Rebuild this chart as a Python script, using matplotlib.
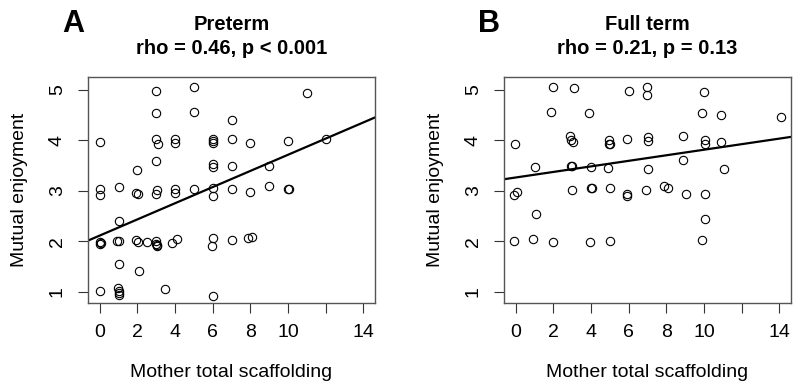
import numpy as np
import matplotlib
matplotlib.use("Agg")
import matplotlib.pyplot as plt

# ---------------------------
# Data
# ---------------------------

pre_x = [3, 5, 3, 5, 7, 0, 3, 3.1, 4, 4, 6, 6, 6, 7, 8, 2, 3, 6, 6, 7,
         0, 0, 1, 1.95, 2.03, 3, 3.05, 4, 4, 5, 6, 6, 7, 8, 1,
         0, 0.03, 0.05, 0.92, 1.05, 1.95, 2.02, 2.5, 3, 3.02, 3.03, 3,
         3.85, 4.08, 6, 5.95, 7, 7.9, 8.1, 1, 2.1, 0, 0.95, 1.0, 1.03, 1.0,
         3.47, 6, 11, 10, 12, 9, 9, 10, 10.05]
pre_y = [4.98, 5.05, 4.53, 4.56, 4.40, 3.96, 4.03, 3.93, 4.03, 3.94, 4.03, 3.99, 3.94, 4.02, 3.95, 3.41, 3.58, 3.53, 3.46, 3.48,
         3.03, 2.92, 3.08, 2.96, 2.93, 2.93, 3.01, 3.04, 2.96, 3.04, 3.06, 2.90, 3.04, 2.98, 2.39,
         1.98, 1.95, 1.97, 2.0, 2.0, 2.03, 1.98, 1.99, 2.0, 1.93, 1.90, 1.95,
         1.97, 2.04, 2.06, 1.91, 2.03, 2.07, 2.08, 1.54, 1.40, 1.01, 1.07, 1.02, 0.97, 0.93,
         1.05, 0.92, 4.93, 3.99, 4.03, 3.49, 3.10, 3.04, 3.03]

full_x = [2, 3.1, 6, 1.9, 3.9, -0.05, 2.88, 2.95, 3.02, 4.98, 4.98, 5.03, 5.9,
          1.05, 2.96, 3.0, 4.0, 4.9, -0.1, 0.07, 3, 4.0, 4.05, 5, 5.9, 5.92,
          1.08, -0.1, 0.9, 2.0, 3.95, 5.0, 6.95, 6.95, 9.98, 9.9, 10.9, 14.07,
          7, 7.03, 8.9, 10.06, 10.06, 10.9, 8.9, 7.04, 11.06, 6.9, 7.88, 8.07,
          9.02, 10.06, 10.06, 9.92]
full_y = [5.05, 5.04, 4.98, 4.56, 4.54, 3.93, 4.08, 4.0, 3.97, 4.0, 3.93, 3.92, 4.02,
          3.47, 3.49, 3.49, 3.46, 3.45, 2.92, 2.97, 3.02, 3.05, 3.05, 3.06, 2.93, 2.90,
          2.53, 2.0, 2.04, 1.98, 1.98, 2.0, 5.06, 4.9, 4.96, 4.54, 4.49, 4.45,
          4.06, 3.98, 4.08, 4.01, 3.92, 3.97, 3.61, 3.43, 3.43, 3.01, 3.09, 3.06,
          2.93, 2.94, 2.43, 2.02]

# fitted lines (intercept, slope)
pre_fit = [2.11, 0.16]
full_fit = [3.26, 0.055]

panels = [
    ("A", "Preterm", "rho = 0.46, p < 0.001", pre_x, pre_y, pre_fit),
    ("B", "Full term", "rho = 0.21, p = 0.13", full_x, full_y, full_fit),
]

xticks = [0, 2, 4, 6, 8, 10, 12, 14]
xticklabels = ["0", "2", "4", "6", "8", "10", "", "14"]
yticks = [1, 2, 3, 4, 5]

font = ["Liberation Sans", "DejaVu Sans"]

fig = plt.figure(figsize=(8, 3.9), dpi=100)

lefts = [88, 504]
for (tag, name, stat, xs, ys, fit), left in zip(panels, lefts):
    ax = fig.add_axes([left / 800, (390 - 303) / 390, 287 / 800, 226 / 390])
    ax.plot(xs, ys, "o", mfc="none", mec="black", ms=6, mew=0.8)
    ax.axline((0, fit[0]), slope=fit[1], color="black", lw=1.6)
    ax.set_xlim(-0.62, 14.62)
    ax.set_ylim(0.775, 5.25)
    ax.set_xticks(xticks)
    ax.set_xticklabels(xticklabels, family=font, fontsize=14)
    ax.set_yticks(yticks)
    ax.set_yticklabels([str(v) for v in yticks], family=font, fontsize=14,
                       rotation=90, va="center")
    ax.tick_params(axis="x", length=7, pad=8, color="#333333")
    ax.tick_params(axis="y", length=7, pad=9, color="#333333")
    for s in ax.spines.values():
        s.set_color("#555555")
        s.set_linewidth(1)
    ax.set_xlabel("Mother total scaffolding", family=font, fontsize=14, labelpad=17)
    ax.set_ylabel("Mutual enjoyment", family=font, fontsize=14, labelpad=15)

    cx = (left + 143.5) / 800
    fig.text(cx, 1 - 24 / 390, name, ha="center", va="center",
             family=font, fontweight="bold", fontsize=14.5)
    fig.text(cx, 1 - 48 / 390, stat, ha="center", va="center",
             family=font, fontweight="bold", fontsize=14.5)
    fig.text((left - 15) / 800, 1 - 24 / 390, tag, ha="center", va="center",
             family=font, fontweight="bold", fontsize=22)

fig.savefig("out.png", dpi=100)
